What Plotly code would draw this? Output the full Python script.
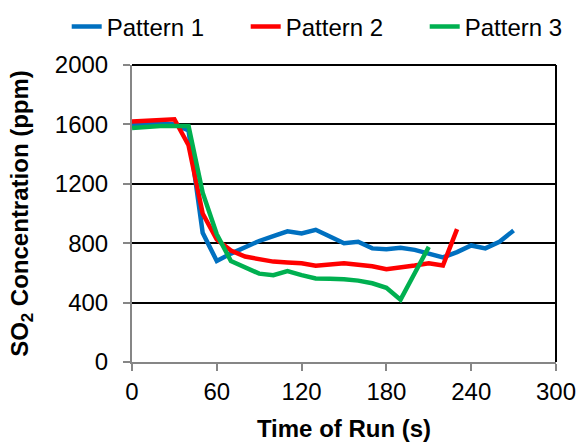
import plotly.graph_objects as go

time_p1 = [0, 10, 20, 30, 40, 50, 60, 70, 80, 90, 100, 110, 120, 130, 140, 150, 160, 170, 180, 190, 200, 210, 220, 230, 240, 250, 260, 270]
so2_p1 = [1600, 1605, 1610, 1600, 1560, 870, 680, 730, 775, 815, 848, 880, 865, 890, 845, 800, 810, 765, 760, 770, 755, 730, 705, 740, 785, 765, 810, 885]

time_p2 = [0, 10, 20, 30, 40, 50, 60, 70, 80, 90, 100, 110, 120, 130, 140, 150, 160, 170, 180, 190, 200, 210, 220, 230]
so2_p2 = [1620, 1625, 1635, 1635, 1460, 1000, 825, 750, 710, 690, 676, 670, 665, 648, 660, 665, 655, 645, 625, 635, 650, 665, 650, 895]

time_p3 = [0, 10, 20, 30, 40, 50, 60, 70, 80, 90, 100, 110, 120, 130, 140, 150, 160, 170, 180, 190, 200, 210]
so2_p3 = [1575, 1585, 1590, 1590, 1590, 1140, 860, 680, 635, 595, 585, 612, 585, 563, 560, 558, 548, 530, 500, 420, 598, 775]

names = ["Pattern 1", "Pattern 2", "Pattern 3"]
colors = ["#0070C0", "#FF0000", "#00B050"]

x_ticks = [0, 60, 120, 180, 240, 300]
y_ticks = [0, 400, 800, 1200, 1600, 2000]

fig = go.Figure()
for t, v, n, c in zip([time_p1, time_p2, time_p3], [so2_p1, so2_p2, so2_p3], names, colors):
    fig.add_trace(go.Scatter(x=t, y=v, mode="lines", name=n,
                             line=dict(color=c, width=4.5)))

font = "Liberation Sans, Arial, sans-serif"
fig.update_layout(
    width=578, height=442,
    margin=dict(l=132, r=22, t=65, b=80, autoexpand=False),
    paper_bgcolor="white", plot_bgcolor="white",
    font=dict(family=font, size=24, color="black"),
    showlegend=True,
    legend=dict(orientation="h", xref="paper", x=-0.154, xanchor="left",
                yref="paper", y=1.128, yanchor="middle",
                font=dict(size=24), tracegroupgap=0, entrywidth=134,
                bgcolor="rgba(0,0,0,0)"),
    xaxis=dict(range=[0, 300], tickvals=x_ticks, ticks="outside", ticklen=7,
               tickcolor="#868686", tickwidth=2, showline=True, linecolor="#868686",
               linewidth=2, showgrid=False, zeroline=False, automargin=False,
               title=dict(text="<b>Time of Run (s)</b>", font=dict(size=24), standoff=18)),
    yaxis=dict(range=[0, 2000], tickvals=y_ticks, ticks="outside", ticklen=7,
               tickcolor="#868686", tickwidth=2, showline=True, linecolor="#868686",
               linewidth=2, showgrid=True, gridcolor="black", gridwidth=2, zeroline=False,
               automargin=False, ticklabelstandoff=10,
               title=dict(text="<b>SO<sub>2</sub> Concentration (ppm)</b>", font=dict(size=24), standoff=19)),
)
fig.add_shape(type="line", xref="paper", yref="paper", x0=1, x1=1, y0=0, y1=1,
              line=dict(color="black", width=2), layer="above")
fig.add_shape(type="line", xref="paper", yref="paper", x0=0, x1=1, y0=1, y1=1,
              line=dict(color="black", width=2), layer="above")

fig.write_html("out.html", config={"displayModeBar": False},
               post_script="document.body.style.margin='0';document.body.style.overflow='hidden';")
